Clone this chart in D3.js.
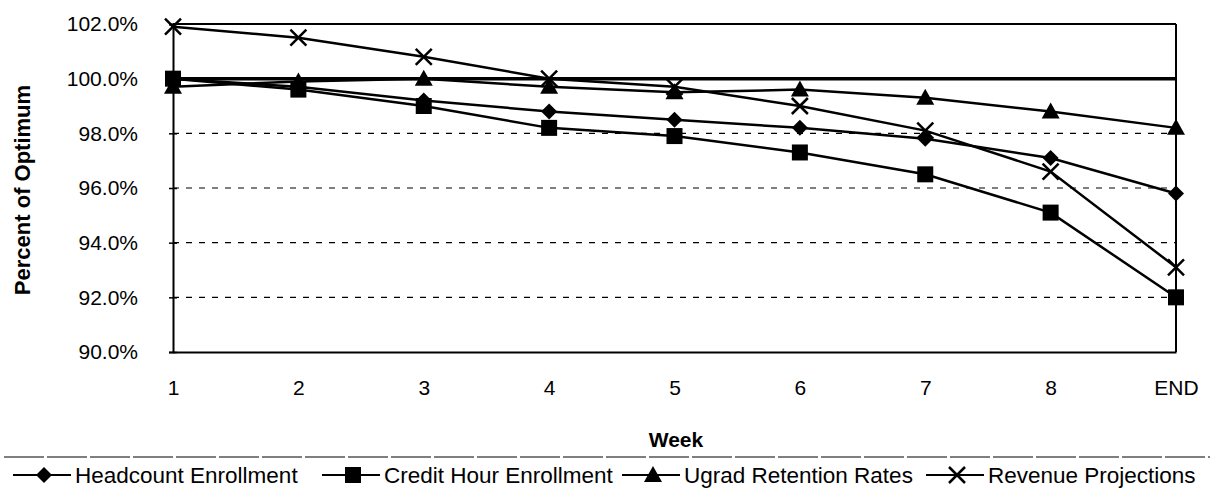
<!DOCTYPE html>
<html>
<head>
<meta charset="utf-8">
<script src="https://cdn.jsdelivr.net/npm/d3@7"></script>
<style>
  body { margin: 0; background: #fff; }
  svg { display: block; font-family: "Liberation Sans", Arial, sans-serif; }
</style>
</head>
<body>
<div class="chart"></div>
<script>
const weeks = ["1", "2", "3", "4", "5", "6", "7", "8", "END"];
const headcount = [100.0, 99.7, 99.2, 98.8, 98.5, 98.2, 97.8, 97.1, 95.8];
const creditHours = [100.0, 99.6, 99.0, 98.2, 97.9, 97.3, 96.5, 95.1, 92.0];
const retention = [99.7, 99.9, 100.0, 99.7, 99.5, 99.6, 99.3, 98.8, 98.2];
const revenue = [101.9, 101.5, 100.8, 100.0, 99.7, 99.0, 98.1, 96.6, 93.1];
const yTicks = [90, 92, 94, 96, 98, 100, 102];
const optimum = 100;

const series = [
  { name: "Headcount Enrollment", values: headcount, marker: "diamond" },
  { name: "Credit Hour Enrollment", values: creditHours, marker: "square" },
  { name: "Ugrad Retention Rates", values: retention, marker: "triangle" },
  { name: "Revenue Projections", values: revenue, marker: "cross" },
];

const width = 1210, height = 492;
const svg = d3.select(".chart").append("svg")
  .attr("width", width).attr("height", height);

const x = d3.scalePoint().domain(weeks).range([173, 1176]);
const y = d3.scaleLinear().domain([90, 102]).range([352, 24]);

// gridlines
svg.append("g")
  .selectAll("line")
  .data(yTicks.filter(d => d > 90 && d < 100))
  .join("line")
  .attr("x1", x.range()[0]).attr("x2", x.range()[1])
  .attr("y1", d => y(d)).attr("y2", d => y(d))
  .attr("stroke", "#000").attr("stroke-width", 1.2)
  .attr("stroke-dasharray", "6,7");

// frame: top + right
svg.append("line")
  .attr("x1", x.range()[0]).attr("x2", x.range()[1])
  .attr("y1", y(102)).attr("y2", y(102))
  .attr("stroke", "#000").attr("stroke-width", 2);
svg.append("line")
  .attr("x1", x.range()[1]).attr("x2", x.range()[1])
  .attr("y1", y(102)).attr("y2", y(90))
  .attr("stroke", "#000").attr("stroke-width", 2);

// optimum line
svg.append("line")
  .attr("x1", x.range()[0]).attr("x2", x.range()[1])
  .attr("y1", y(optimum)).attr("y2", y(optimum))
  .attr("stroke", "#000").attr("stroke-width", 3.5);

// y axis
const yAxis = svg.append("g")
  .attr("transform", `translate(${x.range()[0]},0)`)
  .call(d3.axisLeft(y).tickValues(yTicks).tickSize(4).tickPadding(31)
    .tickFormat(d => d.toFixed(1) + "%"));
yAxis.select(".domain").attr("stroke-width", 2);
yAxis.selectAll(".tick line").attr("x2", 4).attr("x1", -4).attr("stroke-width", 1.5);
yAxis.selectAll("text").attr("font-size", 21).attr("fill", "#000")
  .attr("font-family", "Liberation Sans, Arial, sans-serif");

// x axis
const xAxis = svg.append("g")
  .attr("transform", `translate(0,${y(90)})`)
  .call(d3.axisBottom(x).tickSize(0).tickPadding(28));
xAxis.select(".domain").attr("stroke-width", 2);
xAxis.selectAll("text").attr("font-size", 21).attr("fill", "#000")
  .attr("font-family", "Liberation Sans, Arial, sans-serif");

// axis titles
svg.append("text")
  .attr("transform", "translate(22,190) rotate(-90)")
  .attr("text-anchor", "middle").attr("dy", "0.35em")
  .attr("font-size", 22).attr("font-weight", "bold")
  .text("Percent of Optimum");
svg.append("text")
  .attr("x", 676).attr("y", 440).attr("dy", "0.35em")
  .attr("text-anchor", "middle")
  .attr("font-size", 21).attr("font-weight", "bold")
  .text("Week");

function drawMarker(g, type) {
  if (type === "diamond") {
    g.append("path").attr("d", "M0,-8L8,0L0,8L-8,0Z").attr("fill", "#000");
  } else if (type === "square") {
    g.append("rect").attr("x", -8).attr("y", -8).attr("width", 16).attr("height", 16).attr("fill", "#000");
  } else if (type === "triangle") {
    g.append("path").attr("d", "M0,-9L9,7L-9,7Z").attr("fill", "#000");
  } else {
    g.append("path").attr("d", "M-8,-8L8,8M-8,8L8,-8")
      .attr("stroke", "#000").attr("stroke-width", 2.5).attr("fill", "none");
  }
}

const line = d3.line().x((d, i) => x(weeks[i])).y(d => y(d));

series.forEach(s => {
  svg.append("path")
    .attr("d", line(s.values))
    .attr("fill", "none").attr("stroke", "#000").attr("stroke-width", 2.5);
  s.values.forEach((v, i) => {
    const g = svg.append("g").attr("transform", `translate(${x(weeks[i])},${y(v)})`);
    drawMarker(g, s.marker);
  });
});

// legend
svg.append("line")
  .attr("x1", 4).attr("x2", width).attr("y1", 457).attr("y2", 457)
  .attr("stroke", "#000").attr("stroke-width", 1.2)
  .attr("stroke-dasharray", "40,3");

const legendX = [13, 322, 622, 926];
series.forEach((s, i) => {
  const g = svg.append("g").attr("transform", `translate(${legendX[i]},475)`);
  g.append("line").attr("x1", 0).attr("x2", 58).attr("y1", 0).attr("y2", 0)
    .attr("stroke", "#000").attr("stroke-width", 2);
  drawMarker(g.append("g").attr("transform", "translate(31,0)"), s.marker);
  g.append("text").attr("x", 62).attr("y", 0).attr("dy", "0.35em")
    .attr("font-size", 22.5).text(s.name);
});
</script>
</body>
</html>
